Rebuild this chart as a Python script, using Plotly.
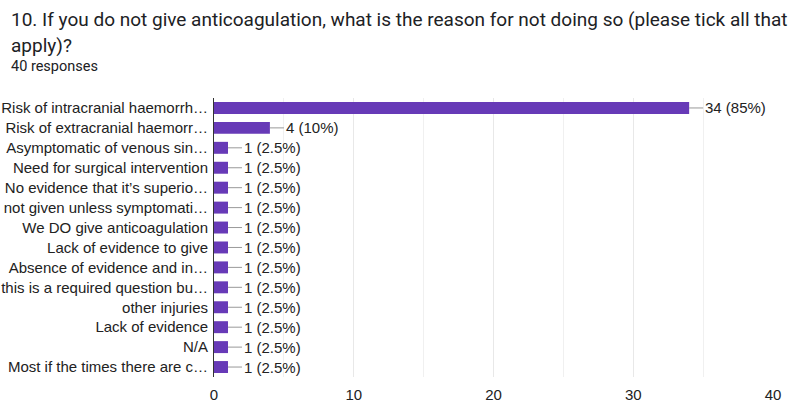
import plotly.graph_objects as go

categories = [
    "Risk of intracranial haemorrh…",
    "Risk of extracranial haemorr…",
    "Asymptomatic of venous sin…",
    "Need for surgical intervention",
    "No evidence that it’s superio…",
    "not given unless symptomati…",
    "We DO give anticoagulation",
    "Lack of evidence to give",
    "Absence of evidence and in…",
    "this is a required question bu…",
    "other injuries",
    "Lack of evidence",
    "N/A",
    "Most if the times there are c…",
]
counts = [34, 4, 1, 1, 1, 1, 1, 1, 1, 1, 1, 1, 1, 1]
total_responses = 40
value_labels = ["34 (85%)", "4 (10%)"] + ["1 (2.5%)"] * 12
x_ticks = [0, 10, 20, 30, 40]

fig = go.Figure()
fig.add_trace(go.Bar(
    y=list(range(len(categories))),
    x=counts,
    orientation="h",
    marker=dict(color="#673ab7", line=dict(width=0)),
    width=0.6,
    hoverinfo="skip",
))

for i, (c, lab) in enumerate(zip(counts, value_labels)):
    fig.add_annotation(
        x=c, y=i, xref="x", yref="y",
        text=lab, showarrow=True, arrowhead=0, arrowwidth=1,
        arrowcolor="#999999", ax=14, ay=0, xanchor="left",
        standoff=0, startstandoff=0,
        font=dict(family="Liberation Sans, Arial", size=15, color="#222222"),
    )

PW = 800 - 214 - 27
PH = 406 - 98 - 29

def px_x(p):
    return (p - 214) / PW

def px_y(p):
    return (377 - p) / PH

fig.add_annotation(xref="paper", yref="paper", x=px_x(9), y=px_y(19),
                   xanchor="left", yanchor="middle", showarrow=False,
                   text="10. If you do not give anticoagulation, what is the reason for not doing so (please tick all that",
                   font=dict(family="Roboto", size=19, color="#202124"))
fig.add_annotation(xref="paper", yref="paper", x=px_x(9), y=px_y(45),
                   xanchor="left", yanchor="middle", showarrow=False,
                   text="apply)?",
                   font=dict(family="Roboto", size=19, color="#202124"))
fig.add_annotation(xref="paper", yref="paper", x=px_x(9), y=px_y(66),
                   xanchor="left", yanchor="middle", showarrow=False,
                   text=f"{total_responses} responses",
                   font=dict(family="Roboto", size=14.5, color="#202124"))

fig.update_layout(
    width=800, height=406,
    margin=dict(l=214, r=27, t=98, b=29, autoexpand=False),
    paper_bgcolor="white", plot_bgcolor="white",
    showlegend=False,
    font=dict(family="Liberation Sans, Arial", size=15, color="#222222"),
)
fig.update_xaxes(
    range=[0, 40], tickvals=x_ticks, ticktext=[str(t) for t in x_ticks],
    showgrid=True, gridcolor="#e8e8e8", gridwidth=1,
    minor=dict(dtick=5, showgrid=True, gridcolor="#f0f0f0"),
    zeroline=False, showline=False, ticks="", ticklabelstandoff=7,
    tickfont=dict(size=15, color="#222222"), automargin=False,
    fixedrange=True,
)
fig.update_yaxes(
    range=[len(categories) - 0.5, -0.5],
    tickvals=list(range(len(categories))), ticktext=categories,
    showgrid=False, zeroline=False, showline=True, linecolor="#333333",
    linewidth=1, ticks="", ticklabelstandoff=2, automargin=False,
    tickfont=dict(size=15, color="#222222"),
    fixedrange=True,
)

fig.write_html("out.html")
